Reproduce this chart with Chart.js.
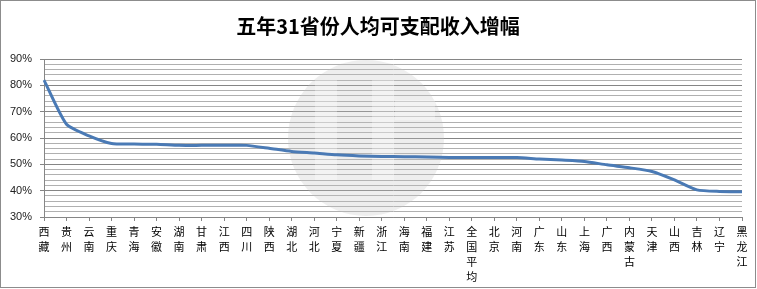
<!DOCTYPE html>
<html>
<head>
<meta charset="utf-8">
<script src="https://cdn.jsdelivr.net/npm/chart.js@4"></script>
<style>
    html, body { margin: 0; padding: 0; background: #fff; }
    #wrap { width: 757px; height: 289px; position: relative; }
</style>
</head>
<body>
<div id="wrap"><canvas id="incomeChart" width="757" height="289"></canvas></div>
<script>
        const provinces = ['西藏', '贵州', '云南', '重庆', '青海', '安徽', '湖南', '甘肃', '江西', '四川',
            '陕西', '湖北', '河北', '宁夏', '新疆', '浙江', '海南', '福建', '江苏', '全国平均',
            '北京', '河南', '广东', '山东', '上海', '广西', '内蒙古', '天津', '山西', '吉林', '辽宁', '黑龙江'];
        const growth = [82.0, 65.2, 60.8, 57.9, 57.7, 57.6, 57.2, 57.2, 57.2, 57.2,
            56.1, 54.9, 54.3, 53.6, 53.2, 53.0, 52.9, 52.8, 52.6, 52.6,
            52.6, 52.6, 52.0, 51.6, 51.1, 49.8, 48.7, 47.3, 44.1, 40.3, 39.7, 39.6];
        const titleText = '五年31省份人均可支配收入增幅';

        // stacked characters, like the original axis
        const stackedLabels = provinces.map(p => p.split(''));

        const frame = {
            id: 'frame',
            beforeDraw(chart) {
                const ctx = chart.ctx;
                ctx.save();
                ctx.fillStyle = '#fff';
                ctx.fillRect(0, 0, chart.width, chart.height);
                ctx.restore();
            },
            beforeDatasetsDraw(chart) {
                // faint round watermark
                const ctx = chart.ctx;
                ctx.save();
                ctx.fillStyle = 'rgba(195,195,195,0.28)';
                ctx.beginPath();
                ctx.arc(366, 138, 78, 0, Math.PI * 2);
                ctx.fill();
                ctx.fillStyle = 'rgba(255,255,255,0.3)';
                ctx.fillRect(315, 80, 22, 100);
                ctx.fillRect(372, 80, 22, 100);
                ctx.fillRect(395, 100, 40, 20);
                ctx.restore();
            },
            afterDraw(chart) {
                const ctx = chart.ctx;
                ctx.save();
                ctx.font = 'bold 20px "Noto Sans CJK SC", sans-serif';
                ctx.fillStyle = '#000';
                ctx.textAlign = 'center';
                ctx.textBaseline = 'middle';
                ctx.fillText(titleText, 378, 26);
                ctx.strokeStyle = '#8c8c8c';
                ctx.lineWidth = 1;
                ctx.strokeRect(0.5, 0.5, 755, 287);
                ctx.restore();
            }
        };

        const chart = new Chart(document.getElementById('incomeChart').getContext('2d'), {
            type: 'line',
            data: {
                labels: stackedLabels,
                datasets: [{
                    data: growth,
                    borderColor: '#4a7ab5',
                    borderWidth: 3,
                    pointRadius: 0,
                    tension: 0.2,
                    fill: false
                }]
            },
            options: {
                responsive: false,
                animation: false,
                layout: { padding: { top: 59, right: 15, bottom: 0, left: 0 } },
                plugins: { legend: { display: false }, title: { display: false }, tooltip: { enabled: false } },
                scales: {
                    x: {
                        offset: false,
                        afterFit: s => { s.height = 72; },
                        grid: { drawOnChartArea: false, tickLength: 4, color: '#868686' },
                        border: { color: '#868686' },
                        ticks: {
                            autoSkip: false, maxRotation: 0, minRotation: 0, padding: 3,
                            color: '#000',
                            font: { family: '"Noto Sans CJK SC", sans-serif', size: 11, lineHeight: 1.36 }
                        }
                    },
                    y: {
                        min: 30, max: 90,
                        afterFit: s => { s.width = 44; },
                        grid: {
                            tickLength: 4,
                            color: c => (c.tick && c.tick.value % 10 === 0) ? '#858585' : '#b0b0b0',
                            tickColor: c => (c.tick && c.tick.value % 10 === 0) ? '#858585' : 'rgba(0,0,0,0)'
                        },
                        border: { color: '#868686' },
                        ticks: {
                            stepSize: 2, autoSkip: false, padding: 8, color: '#222',
                            font: { family: '"Liberation Sans", Arial, sans-serif', size: 11 },
                            callback: v => v % 10 === 0 ? v + '%' : ''
                        }
                    }
                }
            },
            plugins: [frame]
        });
</script>
</body>
</html>
